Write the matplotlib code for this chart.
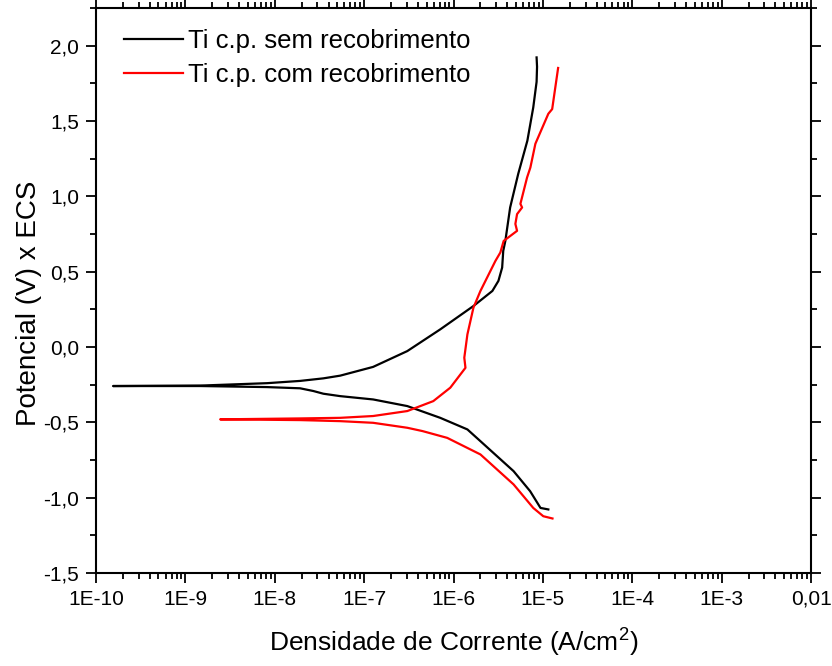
import matplotlib
matplotlib.use("Agg")
import matplotlib.pyplot as plt
from matplotlib.ticker import FixedLocator, LogLocator, MultipleLocator, FuncFormatter, NullFormatter

plt.rcParams['font.family'] = ['Liberation Sans', 'DejaVu Sans']
plt.rcParams['mathtext.fontset'] = 'custom'
plt.rcParams['mathtext.rm'] = 'Liberation Sans'

# Ti c.p. sem recobrimento: cathodic end -> Ecorr -> anodic end
i_sem = [1.15e-5, 9.4e-6, 7.2e-6, 4.7e-6, 2.0e-6, 1.43e-6, 7.1e-7, 3.04e-7, 1.26e-7,
         5.4e-8, 3.5e-8, 2.7e-8, 1.92e-8, 8.2e-9, 1.46e-9, 1.55e-10,
         1.46e-9, 8.2e-9, 1.92e-8, 3.5e-8, 5.4e-8, 1.26e-7, 3.04e-7, 7.1e-7, 1.67e-6,
         2.72e-6, 3.18e-6, 3.5e-6, 3.6e-6, 3.8e-6, 4.3e-6, 5.3e-6, 6.7e-6,
         7.8e-6, 8.5e-6, 8.6e-6, 8.5e-6]
e_sem = [-1.078, -1.068, -0.957, -0.824, -0.625, -0.547, -0.470, -0.392, -0.348,
         -0.326, -0.310, -0.292, -0.274, -0.266, -0.259, -0.259,
         -0.256, -0.240, -0.225, -0.208, -0.190, -0.132, -0.027, 0.117, 0.272,
         0.372, 0.439, 0.527, 0.638, 0.704, 0.926, 1.150, 1.369,
         1.590, 1.760, 1.860, 1.922]

# Ti c.p. com recobrimento
i_com = [1.28e-5, 1.01e-5, 7.8e-6, 4.7e-6, 2.0e-6, 8.5e-7, 4.5e-7, 3.04e-7, 1.26e-7,
         5.4e-8, 1.92e-8, 2.45e-9,
         1.92e-8, 5.4e-8, 1.26e-7, 3.04e-7, 5.94e-7, 9.2e-7, 1.36e-6, 1.32e-6,
         1.43e-6, 1.67e-6, 2.0e-6, 2.94e-6, 3.34e-6, 3.64e-6, 5.14e-6, 4.92e-6,
         5.14e-6, 5.85e-6, 5.6e-6, 6.65e-6, 7.24e-6, 8.24e-6, 1.15e-5, 1.27e-5,
         1.48e-5]
e_com = [-1.138, -1.123, -1.068, -0.912, -0.713, -0.603, -0.558, -0.536, -0.503,
         -0.492, -0.485, -0.480,
         -0.474, -0.470, -0.458, -0.425, -0.359, -0.270, -0.138, -0.071,
         0.084, 0.261, 0.372, 0.571, 0.627, 0.704, 0.771, 0.817,
         0.882, 0.926, 0.950, 1.125, 1.191, 1.349, 1.548, 1.579,
         1.852]

labels = ["Ti c.p. sem recobrimento", "Ti c.p. com recobrimento"]
x_ticks = [1e-10, 1e-9, 1e-8, 1e-7, 1e-6, 1e-5, 1e-4, 1e-3, 1e-2]
x_ticklabels = ["1E-10", "1E-9", "1E-8", "1E-7", "1E-6", "1E-5", "1E-4", "1E-3", "0,01"]

fig = plt.figure(figsize=(8.32, 6.66), dpi=100)
ax = fig.add_axes([0.1154, 0.1396, 0.8594, 0.8484])

ax.plot(i_sem, e_sem, color="black", lw=1.6, label=labels[0])
ax.plot(i_com, e_com, color="red", lw=1.6, label=labels[1])

ax.set_xscale("log")
ax.set_xlim(1e-10, 1e-2)
ax.set_ylim(-1.5, 2.25)
ax.xaxis.set_major_locator(FixedLocator(x_ticks))
ax.set_xticklabels(x_ticklabels)
ax.xaxis.set_minor_locator(LogLocator(base=10, subs=range(2, 10), numticks=20))
ax.xaxis.set_minor_formatter(NullFormatter())
ax.yaxis.set_major_locator(MultipleLocator(0.5))
ax.yaxis.set_minor_locator(MultipleLocator(0.25))
ax.yaxis.set_major_formatter(FuncFormatter(lambda v, p: f"{v:.1f}".replace(".", ",")))

for s in ax.spines.values():
    s.set_linewidth(1.5)
ax.tick_params(which="both", direction="out", top=True, right=True, width=1.3)
ax.tick_params(which="major", length=7, labelsize=15, pad=5)
ax.tick_params(which="minor", length=4)

ax.set_xlabel(r"Densidade de Corrente (A/cm$^2$)", fontsize=19)
ax.xaxis.set_label_coords(0.5, -0.093)
ax.set_ylabel("Potencial (V) x ECS", fontsize=20)
ax.yaxis.set_label_coords(-0.075, 0.478)

ax.legend(loc="upper left", frameon=False, fontsize=18.5, handlelength=2.3,
          handletextpad=0.2, labelspacing=0.4, borderaxespad=0.4,
          bbox_to_anchor=(0.01, 1.0))

fig.savefig("out.png", dpi=100)
